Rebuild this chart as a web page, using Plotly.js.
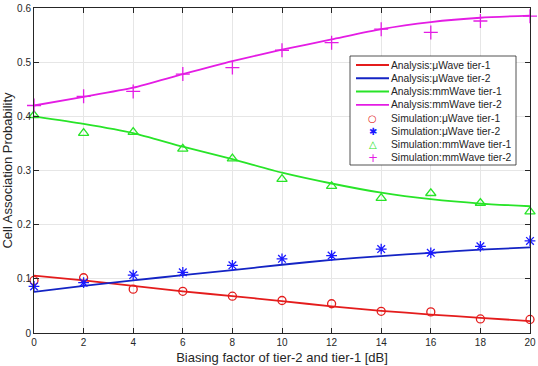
<!DOCTYPE html>
<html><head><meta charset="utf-8">
<script src="https://cdn.plot.ly/plotly-3.0.1.min.js"></script>
<style>html,body{margin:0;padding:0;background:#fff}#c{width:538px;height:366px}</style>
</head><body><div id="c"></div>
<script>
// Series values
const xs = [0,2,4,6,8,10,12,14,16,18,20];
const analysisMu1 = [0.106,0.097,0.087,0.077,0.068,0.059,0.049,0.041,0.034,0.028,0.022];
const analysisMu2 = [0.076,0.087,0.097,0.107,0.116,0.126,0.135,0.142,0.148,0.154,0.158];
const analysisMm1 = [0.400,0.386,0.369,0.344,0.321,0.296,0.276,0.259,0.247,0.239,0.234];
const analysisMm2 = [0.420,0.436,0.453,0.478,0.502,0.523,0.542,0.561,0.574,0.582,0.586];
const simMu1 = [0.097,0.102,0.081,0.077,0.068,0.060,0.054,0.040,0.039,0.026,0.025];
const simMu2 = [0.086,0.093,0.107,0.112,0.125,0.137,0.143,0.155,0.148,0.160,0.170];
const simMm1 = [0.402,0.369,0.371,0.340,0.322,0.284,0.271,0.249,0.258,0.240,0.224];
const simMm2 = [0.420,0.437,0.446,0.478,0.490,0.522,0.536,0.561,0.555,0.576,0.585];
const names = ['Analysis:\u03bcWave tier-1','Analysis:\u03bcWave tier-2','Analysis:mmWave tier-1','Analysis:mmWave tier-2',
  'Simulation:\u03bcWave tier-1','Simulation:\u03bcWave tier-2','Simulation:mmWave tier-1','Simulation:mmWave tier-2'];
const colors = ['#e41c1c','#1424c4','#28e428','#e41ce4'];
const colorsSim = ['#e41c1c','#1a1aff','#28e428','#e41ce4'];
const legendGlyphs = ['\u25cb','\u2731','\u25b3','+'];

const lineData = [analysisMu1, analysisMu2, analysisMm1, analysisMm2];
const simData = [simMu1, simMu2, simMm1, simMm2];
const symbols = ['circle-open','asterisk-open','triangle-up-open','cross-thin-open'];
const sizes = [8,9,9,10];
const traces = [];
lineData.forEach((d,i)=>traces.push({x:xs,y:d,mode:'lines',name:names[i],line:{color:colors[i],width:1.8,shape:'spline',smoothing:0.6}}));
simData.forEach((d,i)=>traces.push({x:xs,y:d,mode:'markers',name:names[4+i],cliponaxis:false,
  marker:{symbol:symbols[i],size:sizes[i],color:colorsSim[i],line:{color:colorsSim[i],width:1.3}}}));

// Compact legend (MATLAB style) built from annotations/shapes in paper space
const W = 538, H = 366, mL = 34, mR = 8, mT = 8, mB = 33;
const pw = W - mL - mR, ph = H - mT - mB;
const px = v => (v - mL) / pw;
const py = v => (H - mB - v) / ph;
const boxL = 350, boxR = 516, boxT = 56, boxB = 165;
const row0 = 65, rowStep = 13.26;
const shapes = [{type:'rect',xref:'paper',yref:'paper',x0:px(boxL),x1:px(boxR),y0:py(boxB),y1:py(boxT),
  line:{color:'#262626',width:0.8},fillcolor:'#fff',layer:'above'}];
const annotations = [];
names.forEach((n,i)=>{
  const yc = py(row0 + rowStep*i);
  annotations.push({xref:'paper',yref:'paper',x:px(390),y:yc,xanchor:'left',yanchor:'middle',showarrow:false,
    text:n,font:{size:10.3,color:'#262626',family:'Liberation Sans, Arial, sans-serif'},borderpad:0});
  if(i<4){
    shapes.push({type:'line',xref:'paper',yref:'paper',x0:px(356),x1:px(389),y0:yc,y1:yc,
      line:{color:colors[i],width:1.8},layer:'above'});
  } else {
    const k=i-4;
    const fs=[10,10,10,12][k];
    annotations.push({xref:'paper',yref:'paper',x:px(372.5),y:yc,xanchor:'center',yanchor:'middle',showarrow:false,
      text:legendGlyphs[k],font:{size:fs,color:colorsSim[k],family:'DejaVu Sans'},borderpad:0});
  }
});

const layout = {
  width:W,height:H,
  margin:{l:mL,r:mR,t:mT,b:mB},
  paper_bgcolor:'#fff',plot_bgcolor:'#fff',
  font:{family:'Liberation Sans, Arial, sans-serif',size:10,color:'#262626'},
  showlegend:false,
  shapes:shapes, annotations:annotations,
  xaxis:{range:[0,20],dtick:2,tick0:0,showgrid:true,gridcolor:'#e6e6e6',zeroline:false,
    showline:true,linecolor:'#262626',linewidth:1,mirror:'ticks',ticks:'inside',ticklen:5,tickcolor:'#262626',
    title:{text:'Biasing factor of tier-2 and tier-1 [dB]',font:{size:13,color:'#262626'},standoff:5}},
  yaxis:{range:[0,0.6],dtick:0.1,tick0:0,showgrid:true,gridcolor:'#e6e6e6',zeroline:false,
    showline:true,linecolor:'#262626',linewidth:1,mirror:'ticks',ticks:'inside',ticklen:5,tickcolor:'#262626',
    title:{text:'Cell Association Probability',font:{size:13,color:'#262626'},standoff:3}}
};
Plotly.newPlot('c',traces,layout,{displayModeBar:false,staticPlot:true});
</script>
</body></html>
